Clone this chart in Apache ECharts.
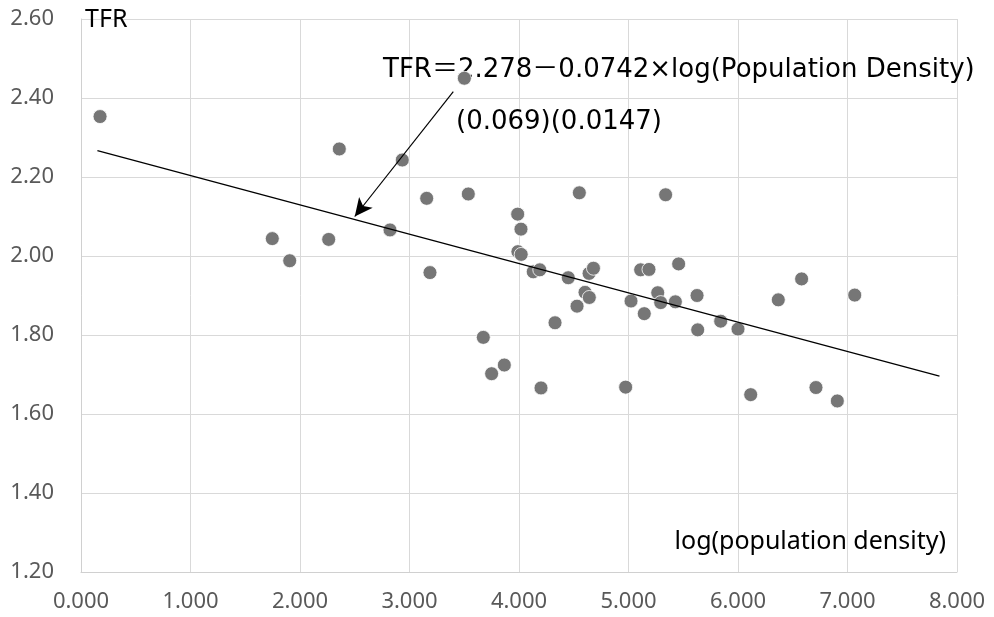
<!DOCTYPE html>
<html>
<head>
<meta charset="utf-8">
<script src="https://cdn.jsdelivr.net/npm/echarts@6/dist/echarts.min.js"></script>
<style>
  html, body { margin: 0; padding: 0; background: #fff; }
  #chart { width: 994px; height: 617px; }
</style>
</head>
<body>
<div id="chart"></div>
<script>
'use strict';
// log(population density) by prefecture
var logDensity = [
    0.174, 1.747, 1.906, 2.262, 2.359, 2.822, 2.934, 3.157, 3.187, 3.501,
    3.537, 3.674, 3.750, 3.866, 3.988, 3.990, 4.018, 4.020, 4.130, 4.190,
    4.201, 4.329, 4.450, 4.530, 4.551, 4.603, 4.642, 4.640, 4.680, 4.974,
    5.023, 5.111, 5.187, 5.144, 5.267, 5.294, 5.339, 5.428, 5.458, 5.626,
    5.632, 5.842, 6.000, 6.116, 6.368, 6.581, 6.712, 6.907, 7.066
];
// TFR
var tfr = [
    2.353, 2.044, 1.988, 2.042, 2.271, 2.066, 2.243, 2.146, 1.958, 2.450,
    2.157, 1.794, 1.702, 1.724, 2.106, 2.011, 2.068, 2.004, 1.960, 1.965,
    1.666, 1.831, 1.945, 1.873, 2.160, 1.908, 1.895, 1.956, 1.969, 1.668,
    1.886, 1.965, 1.966, 1.854, 1.907, 1.882, 2.155, 1.884, 1.980, 1.900,
    1.813, 1.835, 1.815, 1.649, 1.889, 1.942, 1.667, 1.633, 1.901
];
// regression line end points
var trendX = [0.15, 7.84];
var trendY = [2.267, 1.696];
// arrow from equation to line
var arrowFrom = [3.40, 2.416];
var arrowTo = [2.50, 2.100];

var eqText = 'TFR＝2.278－0.0742×log(Population Density)';
var seText = '(0.069)(0.0147)';

var points = logDensity.map(function(x, i) { return [x, tfr[i]]; });
var trend = trendX.map(function(x, i) { return [x, trendY[i]]; });

var chart = echarts.init(document.getElementById('chart'));
var labelFont = '"Noto Sans", sans-serif';
var eqFont = '26px "DejaVu Sans", "Noto Sans CJK JP", sans-serif';

var option = {
    animation: false,
    backgroundColor: '#fff',
    grid: { left: 81, right: 37, top: 19, bottom: 45 },
    xAxis: {
        type: 'value', min: 0, max: 8, interval: 1,
        axisLine: { show: true, lineStyle: { color: '#d0d0d0' } },
        axisTick: { show: false },
        splitLine: { show: true, lineStyle: { color: '#d9d9d9', width: 1 } },
        axisLabel: {
            color: '#595959', fontSize: 22, fontFamily: labelFont, margin: 19,
            formatter: function(v) { return v.toFixed(3); }
        }
    },
    yAxis: {
        type: 'value', min: 1.2, max: 2.6, interval: 0.2,
        axisLine: { show: true, lineStyle: { color: '#d0d0d0' } },
        axisTick: { show: false },
        splitLine: { show: true, lineStyle: { color: '#d9d9d9', width: 1 } },
        axisLabel: {
            color: '#595959', fontSize: 22, fontFamily: labelFont, margin: 27,
            formatter: function(v) { return v.toFixed(2); }
        }
    },
    series: [
        {
            type: 'line',
            data: trend,
            symbol: 'none',
            silent: true,
            lineStyle: { color: '#000', width: 1.3 },
            z: 3,
            markLine: {
                silent: true,
                symbol: ['none', 'arrow'],
                symbolSize: [13, 18],
                lineStyle: { color: '#000', width: 1.2, type: 'solid' },
                label: { show: false },
                data: [[
                    { coord: arrowFrom },
                    { coord: arrowTo }
                ]]
            }
        },
        {
            type: 'scatter',
            data: points,
            symbolSize: 14,
            itemStyle: { color: '#767676', borderColor: '#fff', borderWidth: 0.8, opacity: 1 },
            z: 2
        }
    ],
    graphic: [
        { type: 'text', left: 85, top: 7, z: 1,
          style: { text: 'TFR', fill: '#000', font: '25px "Noto Sans", sans-serif' } },
        { type: 'text', right: 48, top: 529, z: 1,
          style: { text: 'log(population density)', fill: '#000', font: '25px "Noto Sans", sans-serif' } },
        { type: 'text', left: 383, top: 57, z: 1,
          style: { text: eqText, fill: '#000', font: eqFont } },
        { type: 'text', left: 456, top: 109, z: 1,
          style: { text: seText, fill: '#000', font: eqFont } }
    ]
};

chart.setOption(option);
</script>
</body>
</html>
